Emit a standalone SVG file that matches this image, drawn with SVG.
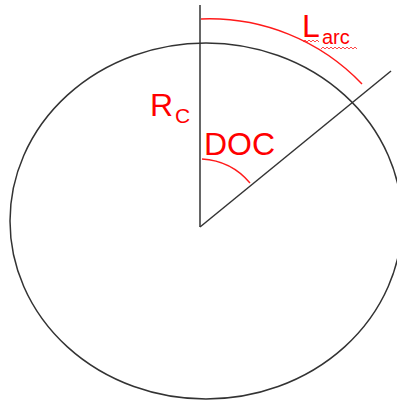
<svg xmlns="http://www.w3.org/2000/svg" width="397" height="400" viewBox="0 0 397 400">
<style>
.blk{fill:none;stroke:#333;stroke-width:1.5}
.red{fill:none;stroke:#ff1a1a;stroke-width:1.4}
.sq{fill:none;stroke:#ff3333;stroke-width:0.9}
.lbl{font-family:"Liberation Sans",Arial,sans-serif;fill:#ff0000}
</style>
<rect width="397" height="400" fill="#fff"/>
<g id="circle"><ellipse class="blk" cx="206" cy="221" rx="196" ry="178"/></g>
<g id="connectors">
<line class="blk" x1="200" y1="5" x2="200" y2="227"/>
<line class="blk" x1="200" y1="227" x2="391" y2="71"/>
<path class="red" d="M201 19 A211 211 0 0 1 362 84"/>
<path class="red" d="M202 159 A68 68 0 0 1 250 183"/>
</g>
<g id="label-rc"><text class="lbl" x="150" y="116" font-size="32">R</text><text class="lbl" x="175" y="123" font-size="21">C</text></g>
<g id="label-doc"><text class="lbl" x="204" y="155" font-size="32">DOC</text></g>
<g id="label-larc"><text class="lbl" x="302" y="37" font-size="32">L</text><text class="lbl" x="322" y="44" font-size="20">arc</text>
<path class="sq" d="M303 42 l2 -2 l2 2 l2 -2 l2 2 l2 -2 l2 2 l2 -2 l2 2"/>
<path class="sq" d="M321 49 l2 -2 l2 2 l2 -2 l2 2 l2 -2 l2 2 l2 -2 l2 2 l2 -2 l2 2 l2 -2 l2 2 l2 -2 l2 2 l2 -2 l2 2 l2 -2 l2 2"/>
</g>
</svg>
